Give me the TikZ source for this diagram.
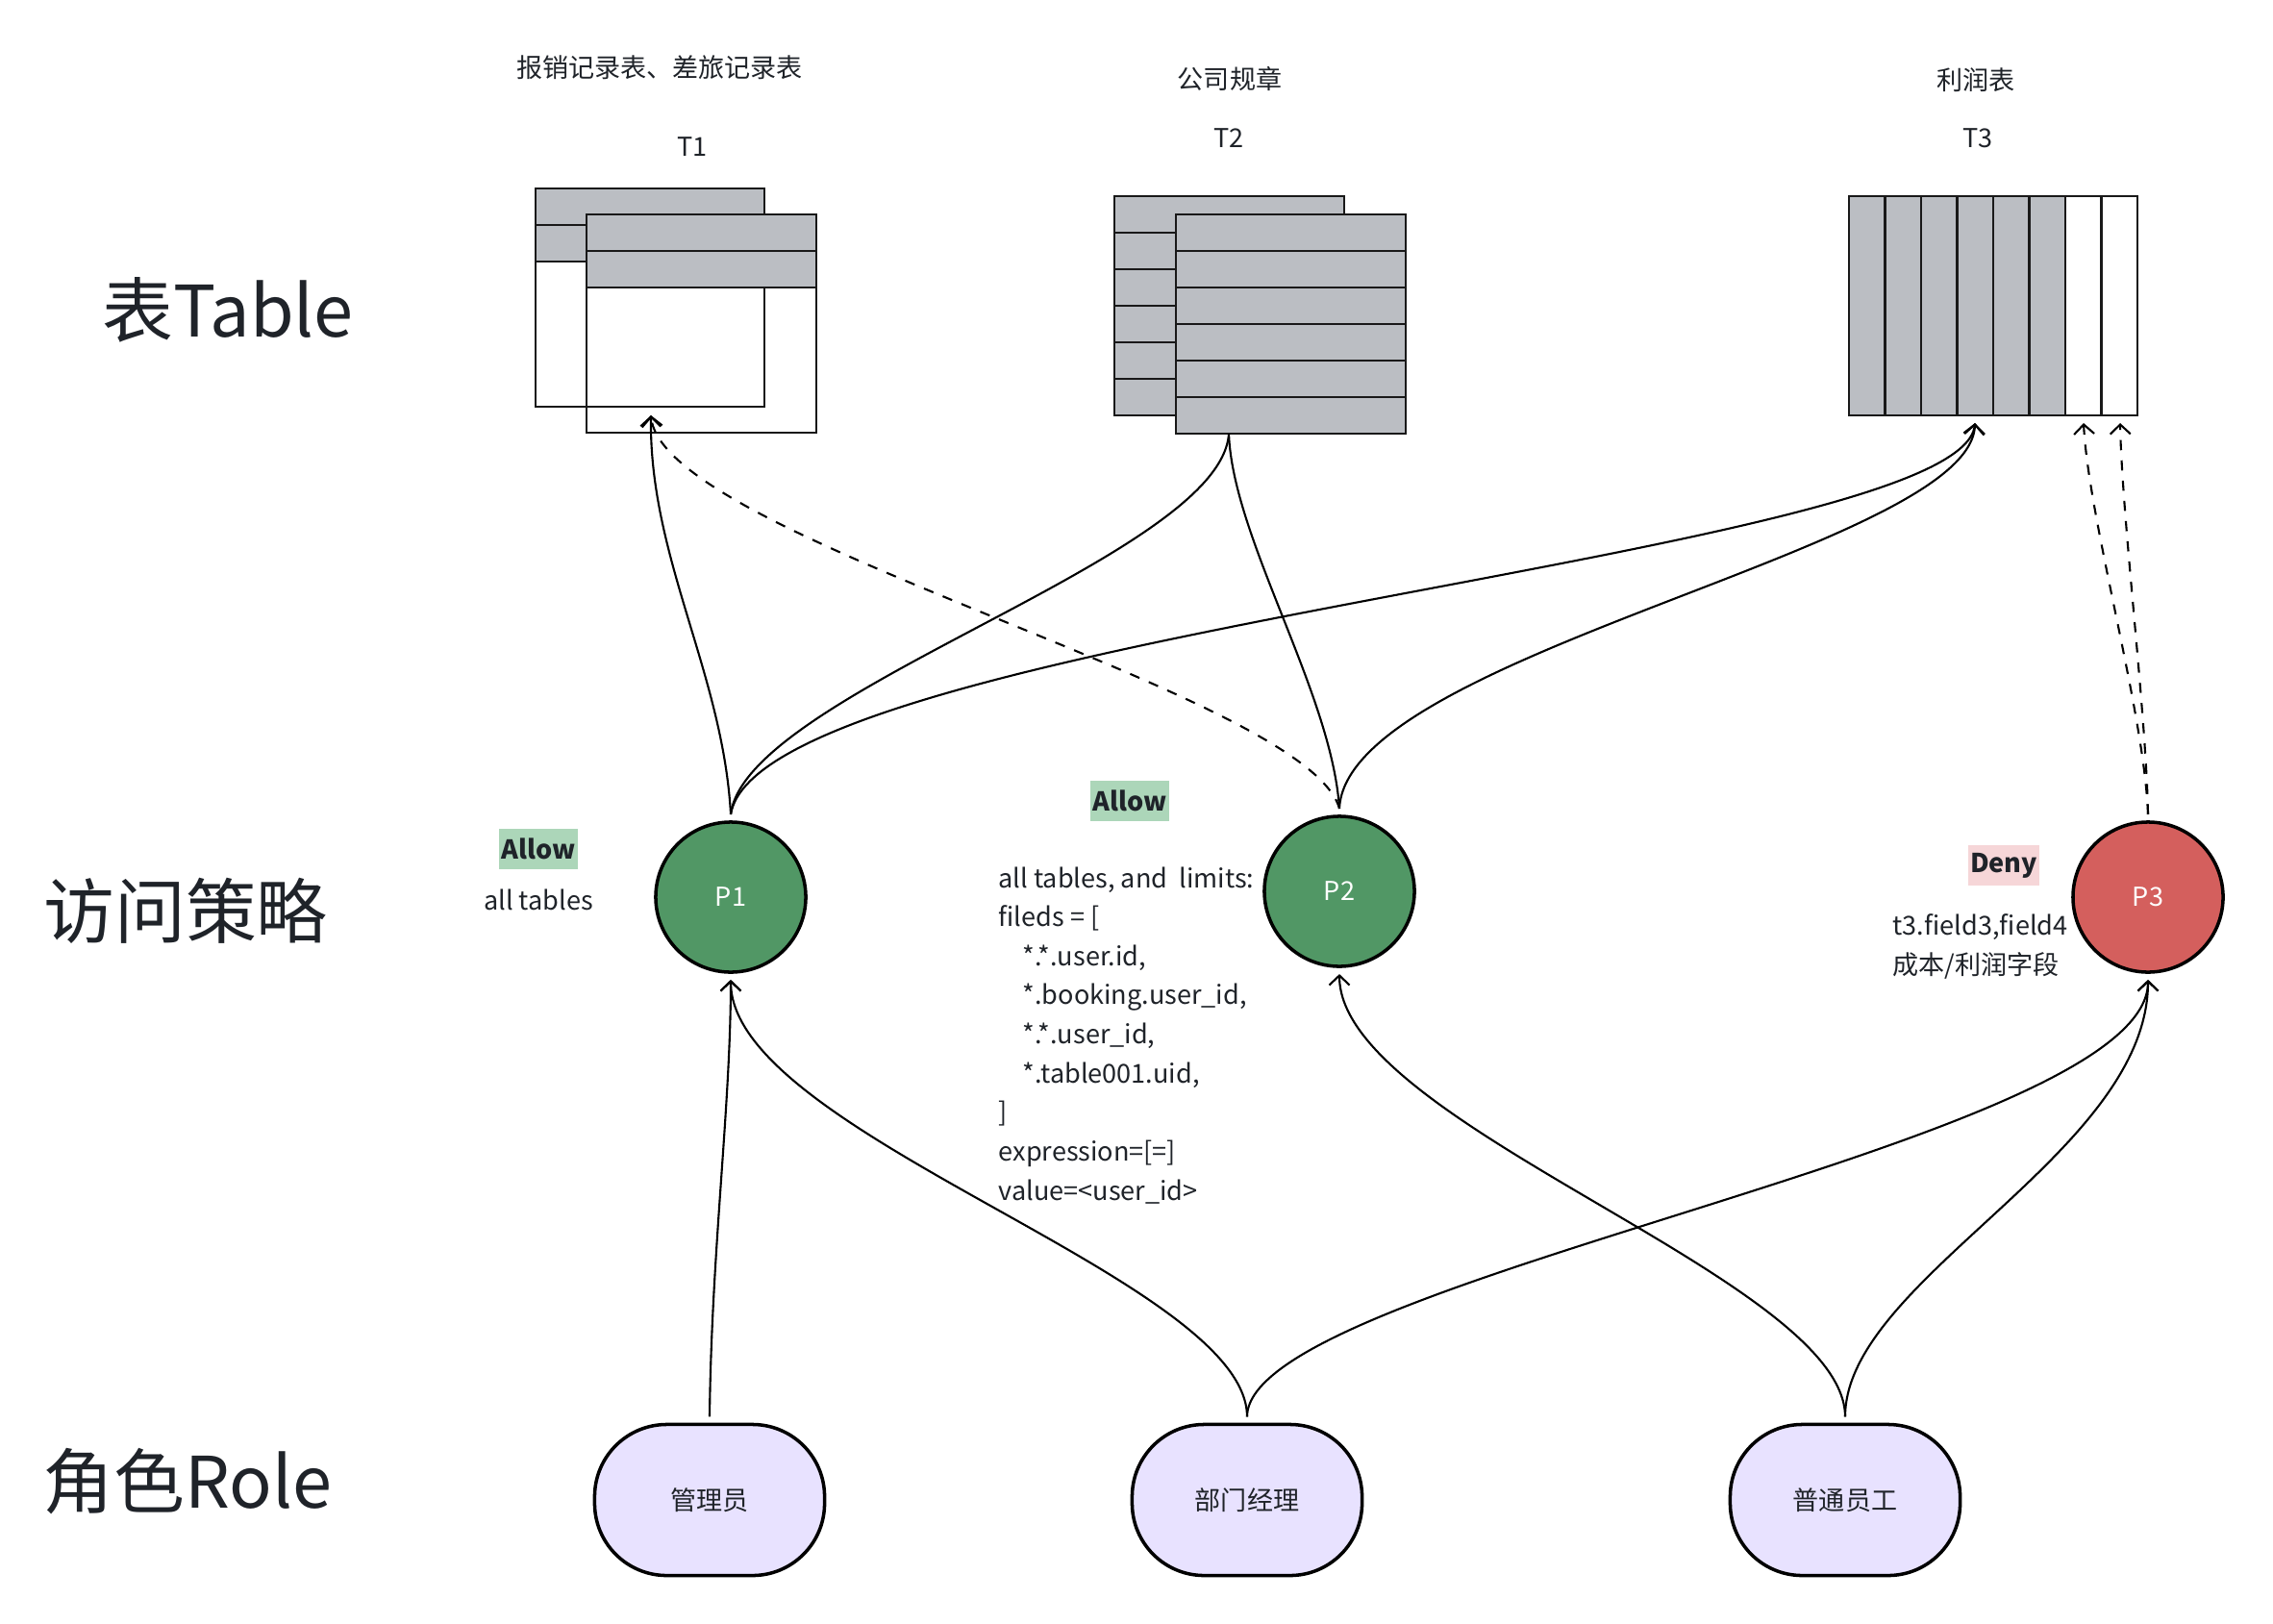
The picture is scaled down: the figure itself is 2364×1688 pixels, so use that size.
\documentclass[tikz,border=0pt]{standalone}
\usepackage{fontspec}
\setmainfont{Noto Sans CJK SC}
\usetikzlibrary{positioning,arrows.meta}
\definecolor{tablegray}{RGB}{187,190,195}
\definecolor{policygreen}{RGB}{81,151,101}
\definecolor{denyred}{RGB}{212,95,93}
\definecolor{rolelilac}{RGB}{232,226,255}
\definecolor{allowbg}{RGB}{172,214,185}
\definecolor{denybg}{RGB}{246,214,216}
\definecolor{ink}{RGB}{31,35,41}

\begin{document}
\begin{tikzpicture}[x=0.01cm,y=-0.01cm,font=\fontsize{7.7}{11.55}\selectfont,text=ink,
  pol/.style={circle,draw=black,line width=1pt,minimum size=1.56cm,outer sep=0.08cm,text=white},
  role/.style={draw=black,line width=1pt,rounded corners=0.75cm,minimum width=2.39cm,minimum height=1.57cm,fill=rolelilac,outer sep=0.08cm},
  big/.style={font=\fontsize{21}{25}\selectfont},
  tag/.style={font=\fontsize{7.7}{11.55}\selectfont\bfseries,inner xsep=0.02cm,inner ysep=0pt,minimum height=0.41cm},
  tabline/.style={draw=black!90,line width=0.6pt},
  link/.style={line width=0.6pt,-{Straight Barb[length=1mm,width=2.1mm]}},
  plain/.style={line width=0.6pt}]
  \useasboundingbox (0,0) rectangle (2364,1688);

  % layer labels
  \node[big] (ltab) at (237,322) {表Table};
  \node[big] (lpol) at (193,947) {访问策略};
  \node[big] (lrole) at (195,1541) {角色Role};

  % tables
  \node (n1) at (686,70) {报销记录表、差旅记录表};
  \node (l1) at (720,153) {T1};
  \node (n2) at (1279,82) {公司规章};
  \node (l2) at (1278,144) {T2};
  \node (n3) at (2055,83) {利润表};
  \node (l3) at (2057,144) {T3};

  \fill[tablegray] (557,196) rectangle (795,272);
  \draw[tabline] (557,196) rectangle (795,423) (557,234) -- (795,234) (557,272) -- (795,272);
  \fill[tablegray] (610,223) rectangle (849,299);
  \draw[tabline] (610,223) rectangle (849,450) (610,261) -- (849,261) (610,299) -- (849,299);

  \filldraw[tabline,fill=tablegray] (1159,204) rectangle (1398,432);
  \foreach \y in {242,280,...,394} \draw[tabline] (1159,\y) -- (1398,\y);
  \filldraw[tabline,fill=tablegray] (1223,223) rectangle (1462,451);
  \foreach \y in {261,299,...,413} \draw[tabline] (1223,\y) -- (1462,\y);

  \fill[tablegray] (1923,204) rectangle (2148,432);
  \draw[tabline] (1923,204) rectangle (2223,432);
  \foreach \i in {1,...,7} \draw[tabline] (1923+37.5*\i,204) -- (1923+37.5*\i,432);

  \coordinate (t1in) at (677,432);
  \coordinate (t2out) at (1278,451);
  \coordinate (t3in) at (2054,440);
  \coordinate (t3a) at (2167,440);
  \coordinate (t3b) at (2205,440);

  % policies
  \node[pol,fill=policygreen] (p1) at (760,933) {P1};
  \node[pol,fill=policygreen] (p2) at (1393,927) {P2};
  \node[pol,fill=denyred] (p3) at (2234,933) {P3};

  \node[tag,fill=allowbg] (g1) at (560,883) {Allow};
  \node[anchor=base] (d1) at (560,946) {all tables};
  \node[tag,fill=allowbg] (g2) at (1175,833) {Allow};
  \node[anchor=base west,align=left,inner sep=0pt] (d2) at (1038,1248)
    {all tables, and\ \ limits:\\
     fileds = [\\
     \hspace*{0.25cm}*.*.user.id,\\
     \hspace*{0.25cm}*.booking.user\_id,\\
     \hspace*{0.25cm}*.*.user\_id,\\
     \hspace*{0.25cm}*.table001.uid,\\
     ]\\
     expression=[=]\\
     value=<user\_id>};
  \node[tag,fill=denybg] (g3) at (2084,900) {Deny};
  \node[anchor=base west,align=left,inner sep=0pt] (d3) at (1968,1013) {t3.field3,field4\\成本/利润字段};

  % roles
  \node[role] (r1) at (738,1560) {管理员};
  \node[role] (r2) at (1297,1560) {部门经理};
  \node[role] (r3) at (1919,1560) {普通员工};

  \draw[link] (p1.north) .. controls (752,700) and (675,580) .. (t1in);
  \draw[link,dashed] (p2.north) .. controls (1360,720) and (690,560) .. (t1in);
  \draw[plain] (p1.north) .. controls (775,720) and (1270,580) .. (t2out);
  \draw[link] (p1.north) .. controls (790,660) and (2040,580) .. (t3in);
  \draw[plain] (p2.north) .. controls (1385,720) and (1282,560) .. (t2out);
  \draw[link] (p2.north) .. controls (1400,680) and (2050,570) .. (t3in);
  \draw[link,dashed] (p3.north) .. controls (2230,740) and (2172,540) .. (t3a);
  \draw[link,dashed] (p3.north) .. controls (2232,740) and (2207,540) .. (t3b);

  \draw[link] (r1.north) .. controls (740,1300) and (760,1150) .. (p1.south);
  \draw[link] (r2.north) .. controls (1297,1330) and (760,1180) .. (p1.south);
  \draw[link] (r2.north) .. controls (1297,1330) and (2234,1190) .. (p3.south);
  \draw[link] (r3.north) .. controls (1919,1330) and (1393,1170) .. (p2.south);
  \draw[link] (r3.north) .. controls (1919,1330) and (2234,1200) .. (p3.south);
\end{tikzpicture}
\end{document}
